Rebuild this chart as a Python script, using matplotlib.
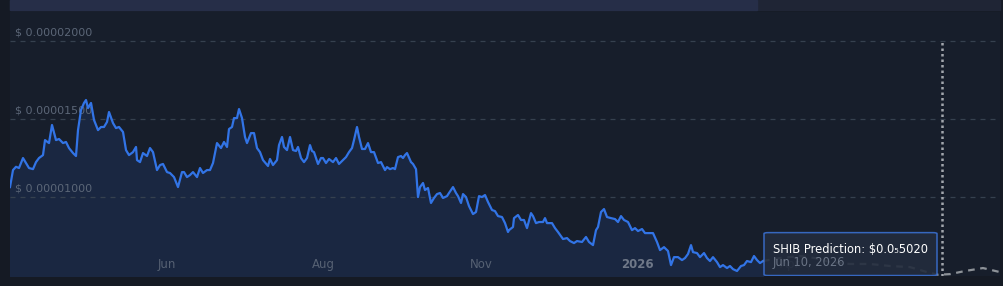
import matplotlib
matplotlib.use("Agg")
import matplotlib.pyplot as plt
from matplotlib.patches import Rectangle, FancyBboxPatch

# sample position along the axis (ordinal axis, not linear in time)
t_hist = [0, 3, 6, 9, 13, 16, 19, 23, 26, 29, 33, 35, 39, 42, 46, 49, 53, 56, 59, 63,
          66, 68, 71, 74, 76, 78, 81, 84, 88, 91, 94, 97, 99, 103, 106, 109, 113, 116, 119, 123,
          126, 127, 130, 133, 137, 140, 143, 147, 150, 153, 157, 160, 164, 168, 172, 174, 177, 180, 183, 187,
          190, 193, 197, 200, 203, 205, 207, 211, 214, 217, 219, 222, 224, 227, 229, 232, 235, 237, 241, 244,
          247, 250, 253, 258, 260, 263, 267, 269, 272, 274, 277, 280, 283, 286, 288, 291, 294, 297, 300, 302,
          304, 308, 311, 313, 316, 319, 323, 326, 329, 332, 336, 339, 342, 344, 347, 349, 352, 355, 358, 361,
          364, 368, 371, 375, 377, 380, 383, 385, 388, 391, 393, 395, 397, 401, 403, 406, 408, 410, 413, 415,
          418, 421, 424, 427, 430, 433, 437, 439, 443, 446, 448, 451, 453, 456, 459, 463, 466, 469, 472, 475,
          478, 482, 485, 488, 492, 495, 498, 499, 503, 504, 508, 511, 514, 517, 521, 523, 526, 529, 533, 535,
          537, 542, 545, 548, 553, 557, 560, 564, 567, 572, 576, 579, 583, 586, 588, 591, 594, 597, 601, 605,
          608, 611, 614, 618, 622, 625, 628, 632, 635, 638, 643, 647, 650, 654, 658, 661, 664, 668, 672, 675,
          678, 681, 683, 687, 690, 694, 697, 700, 703, 707, 710, 713, 717, 720, 723, 727, 731, 734, 737, 741,
          744, 747, 750, 753]
price_hist = [1064, 1173, 1194, 1186, 1250, 1218, 1186, 1179, 1224, 1250, 1269, 1365, 1346, 1462, 1365, 1372, 1346, 1353, 1314, 1282,
              1263, 1429, 1558, 1603, 1622, 1570, 1603, 1494, 1429, 1449, 1449, 1481, 1545, 1474, 1442, 1449, 1417, 1301, 1269, 1288,
              1321, 1237, 1224, 1282, 1263, 1314, 1288, 1173, 1205, 1212, 1160, 1154, 1128, 1064, 1160, 1160, 1128, 1141, 1160, 1128,
              1186, 1154, 1173, 1173, 1218, 1282, 1346, 1314, 1353, 1321, 1436, 1449, 1506, 1506, 1564, 1506, 1385, 1346, 1410, 1410,
              1314, 1288, 1237, 1199, 1244, 1205, 1237, 1333, 1385, 1321, 1301, 1385, 1301, 1295, 1321, 1250, 1224, 1250, 1333, 1295,
              1288, 1212, 1250, 1250, 1218, 1244, 1224, 1250, 1212, 1231, 1256, 1288, 1314, 1365, 1449, 1385, 1308, 1308, 1346, 1288,
              1288, 1218, 1224, 1173, 1192, 1179, 1186, 1179, 1256, 1263, 1250, 1269, 1282, 1224, 1212, 1179, 1000, 1064, 1090, 1045,
              1058, 962, 994, 1019, 1026, 994, 1006, 1026, 1064, 1026, 1006, 962, 1019, 1000, 942, 891, 904, 1006, 1000, 1013,
              968, 917, 910, 878, 872, 833, 776, 788, 808, 865, 885, 853, 853, 801, 897, 878, 833, 840, 840, 865,
              833, 833, 801, 776, 731, 737, 718, 705, 718, 712, 744, 712, 692, 788, 808, 904, 923, 872, 865, 859,
              840, 878, 853, 840, 788, 801, 782, 795, 769, 769, 769, 712, 660, 679, 654, 564, 615, 615, 596, 609,
              635, 692, 647, 641, 615, 641, 609, 590, 615, 583, 551, 564, 545, 558, 538, 526, 558, 564, 590, 583,
              622, 596, 577, 590]

t_pred = [753, 770, 790, 805, 820, 840, 860, 880, 900, 917, 928, 940, 955, 973, 990]
price_pred = [590, 609, 622, 609, 583, 571, 571, 558, 551, 519, 502, 506, 526, 545, 519]

# prices above are in units of 1e-8 USD
price_hist = [p * 1e-8 for p in price_hist]
price_pred = [p * 1e-8 for p in price_pred]

y_grid = [1e-5, 1.5e-5, 2e-5]
y_labels = ["$ 0.00001000", "$ 0.00001500", "$ 0.00002000"]
x_ticks = [157, 313, 471, 627, 780]
x_labels = ["Jun", "Aug", "Nov", "2026", "Apr"]

hover_t = 932
y_bot, y_top = 4.94e-6, 2.186e-5

fig = plt.figure(figsize=(10.04, 2.86), dpi=100, facecolor="#151a24")
ax = fig.add_axes([10 / 1004, 10 / 286, 990 / 1004, 264 / 286])
ax.set_facecolor("#171e2b")
ax.set_xlim(0, 990)
ax.set_ylim(y_bot, y_top)
for s in ax.spines.values():
    s.set_visible(False)
ax.set_xticks([])
ax.set_yticks([])

# navigator bar on top
fig.patches.append(Rectangle((10 / 1004, 276 / 286), 990 / 1004, 10 / 286,
                             transform=fig.transFigure, color="#1f2535", zorder=0))
fig.patches.append(Rectangle((10 / 1004, 276 / 286), 747 / 1004, 10 / 286,
                             transform=fig.transFigure, color="#262e48", zorder=0))

for v, lab in zip(y_grid, y_labels):
    ax.axhline(v, color="#36414f", lw=0.9, ls=(0, (4, 4)), zorder=2.4)
    ax.annotate(lab, (5, v), xytext=(0, 2.5), textcoords="offset points",
                color="#5b6677", fontsize=8, va="bottom", ha="left", zorder=2.5,
                annotation_clip=False)

for xt, lab in zip(x_ticks, x_labels):
    bold = lab.isdigit()
    ax.annotate(lab, (xt, y_bot), xytext=(0, 8), textcoords="offset points",
                color="#6f7888" if bold else "#566173", fontsize=8.5,
                fontweight="bold" if bold else "normal", ha="center", va="center", zorder=4,
                annotation_clip=False)

ax.fill_between(t_hist, price_hist, y_bot, color="#1a2741", zorder=2)
ax.plot(t_hist, price_hist, color="#3274e6", lw=1.6, zorder=3)
ax.plot(t_pred, price_pred, color="#8d9298", lw=1.6, ls=(0, (3, 2.5)), zorder=3)

ax.axvline(hover_t, ymax=(2e-5 - y_bot) / (y_top - y_bot), color="#a2a6ad",
           lw=1.8, ls=(0, (1, 1.2)), zorder=4)

# tooltip
box = FancyBboxPatch((754, y_bot + 0.3e-7), 173, 2.75e-6, boxstyle="round,pad=0,rounding_size=4",
                     mutation_aspect=1.6e-8, facecolor="#232c3d", edgecolor="#3a6fd0",
                     lw=1.1, alpha=0.9, zorder=5)
ax.add_patch(box)
ax.text(763, 6.65e-6, "SHIB Prediction: $0.0\u20855020", color="#ffffff", fontsize=8.3,
        va="center", ha="left", zorder=6, parse_math=False)
ax.text(763, 5.82e-6, "Jun 10, 2026", color="#6b7586", fontsize=8.3,
        va="center", ha="left", zorder=6)

fig.savefig("out.png", dpi=100, facecolor=fig.get_facecolor())
